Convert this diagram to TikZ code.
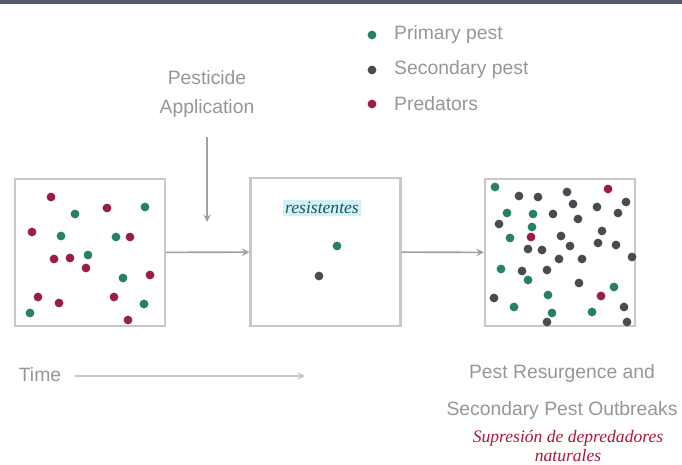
\documentclass[tikz,border=0pt]{standalone}
\usepackage{fontspec}
\setmainfont{Liberation Sans}
\newfontfamily\handfont{Liberation Serif}
\usetikzlibrary{arrows,positioning}

\definecolor{primarypest}{RGB}{38,128,102}
\definecolor{secondpest}{RGB}{72,76,82}
\definecolor{predator}{RGB}{152,30,66}
\definecolor{topbar}{RGB}{85,90,106}
\definecolor{labelgray}{RGB}{150,150,150}
\definecolor{framegray}{RGB}{200,200,200}

\begin{document}
\begin{tikzpicture}[x=0.02cm,y=-0.02cm,>=stealth,
		field/.style={draw=framegray,line width=1.2pt,minimum width=3cm,minimum height=2.95cm,inner sep=0pt},
		pA/.style={circle,fill=primarypest,inner sep=0pt,minimum size=5pt},
		pB/.style={circle,fill=secondpest,inner sep=0pt,minimum size=5pt},
		pR/.style={circle,fill=predator,inner sep=0pt,minimum size=5pt},
		caption/.style={text=labelgray,font=\fontsize{11}{12}\selectfont},
		flow/.style={->,draw=framegray!80!black,line width=0.9pt}]
		\useasboundingbox (0,0) rectangle (682,465);
		\fill[topbar] (0,0) rectangle (682,4);
		% legend
		\node[pA] (legA) at (372,35) {};
		\node[pB] (legB) at (372,70) {};
		\node[pR] (legR) at (372,104) {};
		\node[caption,anchor=west] at (388,35) {Primary pest};
		\node[caption,anchor=west] at (388,70) {Secondary pest};
		\node[caption,anchor=west] at (388,104) {Predators};
		% the three fields
		\node[field] (before) at (90,252.5) {};
		\node[field] (spray) at (325.5,252) {};
		\node[field] (after) at (560,252.5) {};
		\node[caption,align=center] (pesticide) at (207,94) {Pesticide\\[4pt]Application};
		\coordinate (drop) at (207,222);
		\draw[flow] (pesticide.south |- 0,137) -- (drop);
		\draw[flow] (before) -- (spray);
		\draw[flow] (spray) -- (after);
		% before spraying
		\foreach \x/\y in {75/214,145/207,61/236,116/237,88/255,123/278,144/304,30/313}
			\node[pA] at (\x,\y) {};
		\foreach \x/\y in {51/197,107/208,32/232,130/237,54/259,70/258,86/268,150/275,38/297,59/303,114/297,128/320}
			\node[pR] at (\x,\y) {};
		% right after spraying
		\node[text=primarypest!70!black,font=\handfont\itshape\fontsize{10}{12}\selectfont,fill=cyan!18,inner sep=1pt] (survivors) at (322,208) {resistentes};
		\node[pA] at (337,246) {};
		\node[pB] at (319,276) {};
		% outbreak
		\foreach \x/\y in {495/187,507/213,533/214,532/227,510/238,501/269,528/280,614/287,548/295,514/307,552/313,592/312}
			\node[pA] at (\x,\y) {};
		\foreach \x/\y in {519/196,538/197,567/192,626/202,553/214,573/204,597/207,618/213,499/224,578/219,602/231,561/236,598/243,616/245,528/249,542/250,570/246,559/259,582/259,632/257,522/271,547/270,579/283,494/298,624/307,547/322,627/322}
			\node[pB] at (\x,\y) {};
		\foreach \x/\y in {608/189,531/237,601/296}
			\node[pR] at (\x,\y) {};
		% time axis
		\node[caption] (time) at (40,375) {Time};
		\coordinate (timeend) at (305,376);
		\draw[flow,draw=framegray] (75,376) -- (timeend);
		\node[caption,align=center] (outcome) at (562,392) {Pest Resurgence and\\[9pt]Secondary Pest Outbreaks};
		\node[text=predator!80!red,font=\handfont\itshape\fontsize{10}{11}\selectfont,align=center] (note) at (568,446) {Supresión de depredadores\\naturales};
\end{tikzpicture}
\end{document}
